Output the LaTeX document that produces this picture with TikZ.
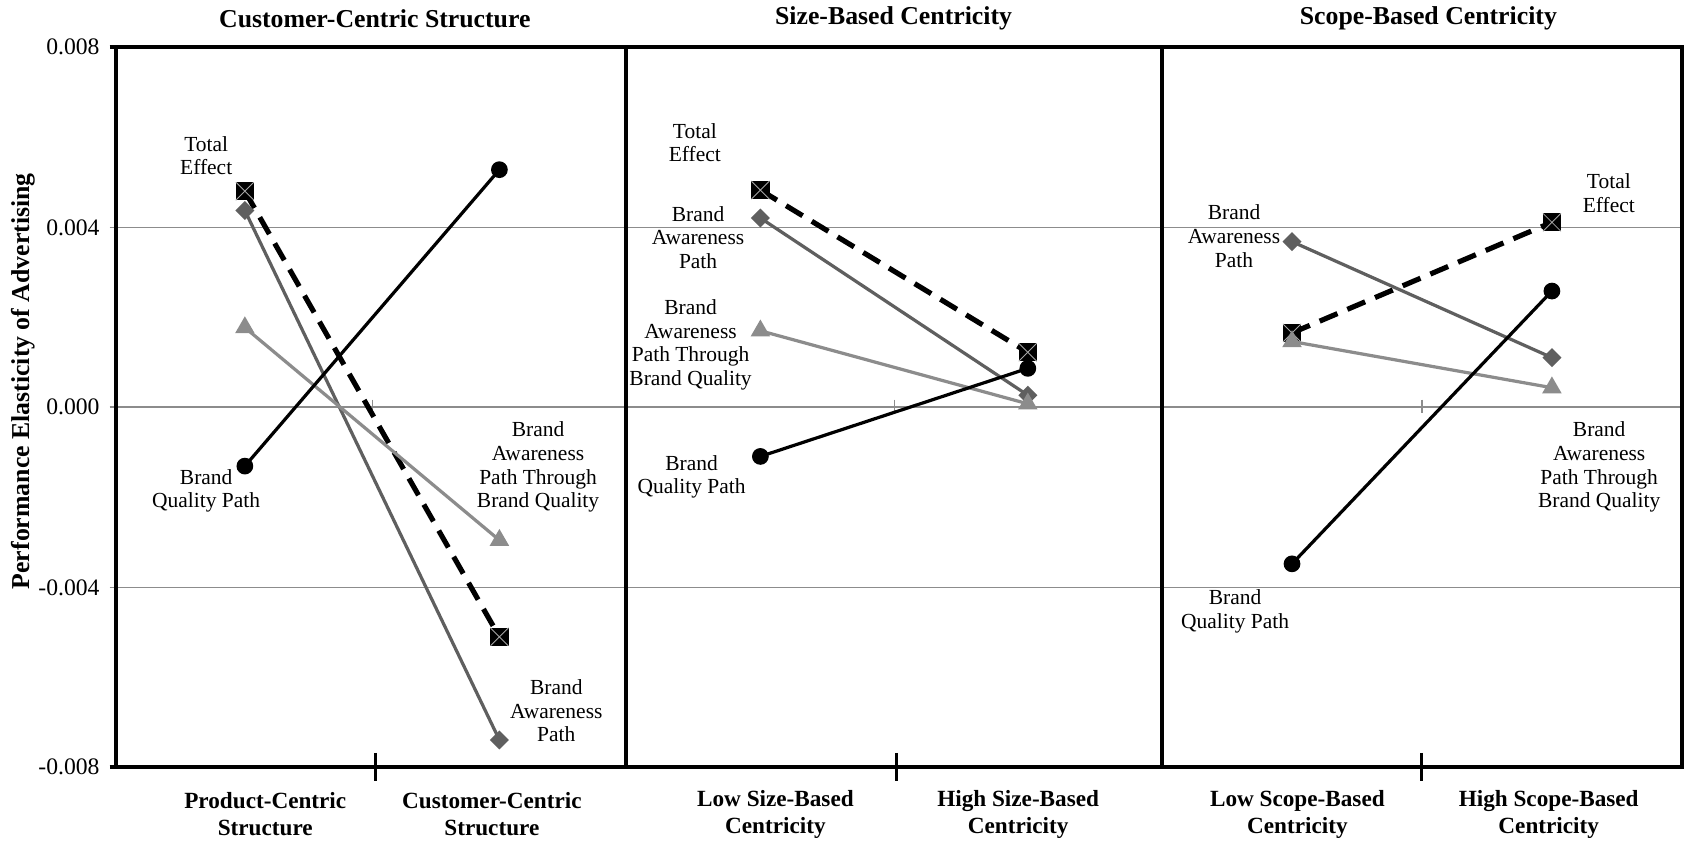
\documentclass[tikz,border=0pt]{standalone}
\usepackage{fontspec}
\setmainfont{Liberation Serif}
\usetikzlibrary{shapes.geometric}
\definecolor{dgray}{HTML}{5F5F5F}
\definecolor{lgray}{HTML}{8C8C8C}
\definecolor{gridc}{HTML}{8C8C8C}
\begin{document}
\begin{tikzpicture}[x=0.5pt,y=-0.5pt,
  lbl/.style={font=\fontsize{10}{11}\selectfont, align=center, inner sep=0},
  ttl/.style={font=\bfseries\fontsize{12}{14}\selectfont, inner sep=0},
  cat/.style={font=\bfseries\fontsize{10.8}{12.5}\selectfont, align=center, inner sep=0},
  ynum/.style={font=\fontsize{11}{13}\selectfont, anchor=east, inner sep=0},
  gridl/.style={draw=gridc, line width=0.6pt},
  framel/.style={line width=1.7pt},
  sqm/.style={rectangle, fill=black, minimum size=8.5pt, inner sep=0,
    path picture={\draw[gray!70, line width=0.4pt]
      (path picture bounding box.north west) -- (path picture bounding box.south east)
      (path picture bounding box.north east) -- (path picture bounding box.south west);}},
  cirm/.style={circle, fill=black, minimum size=7.8pt, inner sep=0},
  diam/.style={diamond, fill=dgray, minimum size=9pt, inner sep=0},
  trim/.style={regular polygon, regular polygon sides=3, fill=lgray, minimum size=10.5pt, inner sep=0},
  totl/.style={line width=2.4pt, dash pattern=on 9pt off 5pt},
  quall/.style={line width=1.5pt, black},
  awl/.style={line width=1.5pt, dgray},
  thl/.style={line width=1.5pt, lgray}
]
\useasboundingbox (0,0) rectangle (1568,785);

% grid
\foreach \yy in {212,379,547} { \draw[gridl] (102,\yy) -- (1566,\yy); }
\foreach \xx in {347,833,1324} { \draw[gridl] (\xx,372) -- (\xx,385); }

% frame
\draw[framel] (108,44) rectangle (1566,714);
\draw[framel] (583,44) -- (583,714);
\draw[framel] (1082,44) -- (1082,714);
\draw[framel] (102,44) -- (108,44);
\draw[framel] (102,714) -- (108,714);
\foreach \xx in {350,835,1324} { \draw[line width=1.4pt] (\xx,701) -- (\xx,727); }

% y numbers
\node[ynum] (y1) at (93,44) {0.008};
\node[ynum] (y2) at (93,212) {0.004};
\node[ynum] (y3) at (93,379) {0.000};
\node[ynum] (y4) at (93,547) {-0.004};
\node[ynum] (y5) at (93,714) {-0.008};
\node[font=\bfseries\fontsize{12}{14}\selectfont, rotate=90, inner sep=0] (ytitle) at (22,355) {Performance Elasticity of Advertising};

% titles
\node[ttl] (t1) at (349,17) {Customer-Centric Structure};
\node[ttl] (t2) at (832,17) {Size-Based Centricity};
\node[ttl] (t3) at (1330,17) {Scope-Based Centricity};

% categories
\node[cat] (c1) at (247,758) {Product-Centric\\Structure};
\node[cat] (c2) at (458,758) {Customer-Centric\\Structure};
\node[cat] (c3) at (722,758) {Low Size-Based\\Centricity};
\node[cat] (c4) at (948,758) {High Size-Based\\Centricity};
\node[cat] (c5) at (1208,758) {Low Scope-Based\\Centricity};
\node[cat] (c6) at (1442,758) {High Scope-Based\\Centricity};

% data coordinates
\coordinate (tot1L) at (228,178); \coordinate (tot1R) at (465,593);
\coordinate (aw1L) at (228,196);  \coordinate (aw1R) at (465,689);
\coordinate (th1L) at (228,305);  \coordinate (th1R) at (465,503);
\coordinate (q1L) at (228,434);   \coordinate (q1R) at (465,158);
\coordinate (tot2L) at (708,177); \coordinate (tot2R) at (957,328);
\coordinate (aw2L) at (708,203);  \coordinate (aw2R) at (957,368);
\coordinate (th2L) at (708,308);  \coordinate (th2R) at (957,376);
\coordinate (q2L) at (708,425);   \coordinate (q2R) at (957,343);
\coordinate (tot3L) at (1203,310); \coordinate (tot3R) at (1445,207);
\coordinate (aw3L) at (1203,225);  \coordinate (aw3R) at (1445,333);
\coordinate (th3L) at (1203,318);  \coordinate (th3R) at (1445,361);
\coordinate (q3L) at (1203,525);   \coordinate (q3R) at (1445,271);

% series: total
\foreach \p in {1,2,3} {
  \draw[totl] (tot\p L) -- (tot\p R);
  \node[sqm] at (tot\p L) {}; \node[sqm] at (tot\p R) {};
}
% awareness
\foreach \p in {1,2,3} {
  \draw[awl] (aw\p L) -- (aw\p R);
  \node[diam] at (aw\p L) {}; \node[diam] at (aw\p R) {};
}
% through quality
\foreach \p in {1,2,3} {
  \draw[thl] (th\p L) -- (th\p R);
  \node[trim] at (th\p L) {}; \node[trim] at (th\p R) {};
}
% quality
\foreach \p in {1,2,3} {
  \draw[quall] (q\p L) -- (q\p R);
  \node[cirm] at (q\p L) {}; \node[cirm] at (q\p R) {};
}

% labels panel 1
\node[lbl] (l1a) at (192,145) {Total\\Effect};
\node[lbl] (l1b) at (192,457) {Brand\\Quality Path};
\node[lbl] (l1c) at (501,435) {Brand\\Awareness\\Path Through\\Brand Quality};
\node[lbl] (l1d) at (518,662) {Brand\\Awareness\\Path};
% labels panel 2
\node[lbl] (l2a) at (647,133) {Total\\Effect};
\node[lbl] (l2b) at (650,221) {Brand\\Awareness\\Path};
\node[lbl] (l2c) at (643,321) {Brand\\Awareness\\Path Through\\Brand Quality};
\node[lbl] (l2d) at (644,444) {Brand\\Quality Path};
% labels panel 3
\node[lbl] (l3a) at (1498,180) {Total\\Effect};
\node[lbl] (l3b) at (1149,220) {Brand\\Awareness\\Path};
\node[lbl] (l3c) at (1489,435) {Brand\\Awareness\\Path Through\\Brand Quality};
\node[lbl] (l3d) at (1150,569) {Brand\\Quality Path};
\end{tikzpicture}
\end{document}
